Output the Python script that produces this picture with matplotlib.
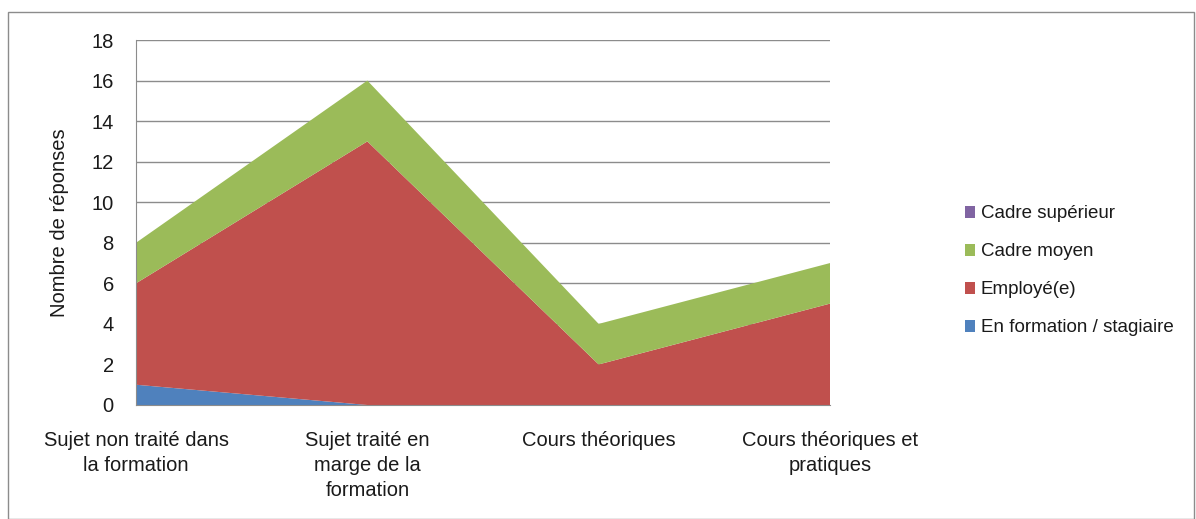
import matplotlib.pyplot as plt
from matplotlib.patches import Rectangle

plt.rcParams['font.family'] = ['Liberation Sans', 'DejaVu Sans']

# ---- data ----
categories = ["Sujet non traité dans\nla formation",
              "Sujet traité en\nmarge de la\nformation",
              "Cours théoriques",
              "Cours théoriques et\npratiques"]
en_formation = [1, 0, 0, 0]
employe = [5, 13, 2, 5]
cadre_moyen = [2, 3, 2, 2]
cadre_sup = [0, 0, 0, 0]

series_names = ["En formation / stagiaire", "Employé(e)", "Cadre moyen", "Cadre supérieur"]
colors = ["#4F81BD", "#C0504D", "#9BBB59", "#8064A2"]
text_color = "#1a1a1a"

fig = plt.figure(figsize=(11.96, 5.19), dpi=100)
ax = fig.add_axes([136 / 1196, 1 - 405 / 519, (830 - 136) / 1196, (405 - 40) / 519])

x = list(range(len(categories)))
ax.stackplot(x, en_formation, employe, cadre_moyen, cadre_sup,
             colors=colors, labels=series_names, linewidth=0)

ax.set_xlim(0, 3)
ax.set_ylim(0, 18)
ax.set_yticks(range(0, 19, 2))
ax.set_xticks(x)
ax.set_xticklabels(categories, fontsize=14.5, color=text_color, linespacing=1.4)
ax.tick_params(axis="y", labelsize=14.5, length=0, pad=16, colors=text_color)
ax.tick_params(axis="x", length=0, pad=19)
ax.set_ylabel("Nombre de réponses", fontsize=14.5, color=text_color, labelpad=16)

ax.grid(axis="y", color="#8c8c8c", linewidth=1)
ax.set_axisbelow(True)
for side in ["top", "right"]:
    ax.spines[side].set_visible(False)
ax.spines["left"].set_color("#8c8c8c")
ax.spines["bottom"].set_color("#8c8c8c")

handles, labels = ax.get_legend_handles_labels()
leg = fig.legend(handles[::-1], labels[::-1], loc="center left",
                 bbox_to_anchor=(948 / 1196, 1 - 271 / 519), frameon=False,
                 fontsize=13.5, handlelength=0.55, handleheight=0.55,
                 handletextpad=0.3, labelspacing=1.12)
for t in leg.get_texts():
    t.set_color(text_color)

# outer chart border
fig.patches.append(Rectangle((8 / 1196, 0), 1 - 8 / 1196 - 2 / 1196, 1 - 12 / 519,
                             transform=fig.transFigure, fill=False,
                             edgecolor="#8c8c8c", linewidth=1))

fig.savefig("out.png", dpi=100)
